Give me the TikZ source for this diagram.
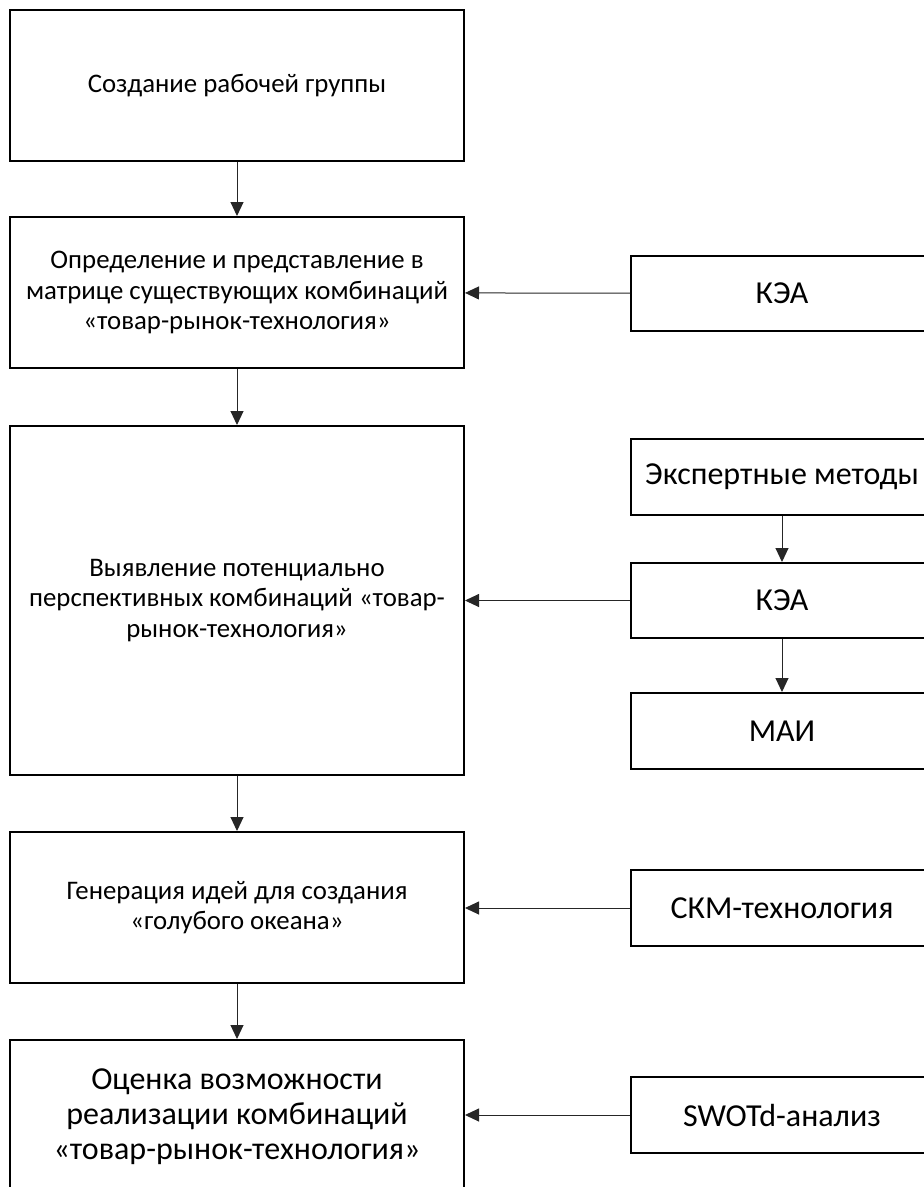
\documentclass[tikz,border=0pt]{standalone}
\usepackage{fontspec}
\setmainfont{Carlito}
\usetikzlibrary{arrows.meta}
\begin{document}
\begin{tikzpicture}[x=1pt,y=-1pt,
  stage/.style={draw=black, line width=2pt, minimum width=454pt, align=center, inner sep=0pt,
    font=\fontsize{26.8}{30.5}\selectfont},
  tool/.style={draw=black, line width=2pt, minimum width=302pt, minimum height=75pt, align=center, inner sep=0pt,
    font=\fontsize{32}{36}\selectfont},
  flow/.style={line width=1pt, draw=black!85, -{Triangle[length=14pt,width=13pt]}}]
\clip (0,0) rectangle (924,1187);
\useasboundingbox (0,0) rectangle (924,1187);

% main sequence of stages
\node[stage, minimum height=151pt] (s1) at (237,85.5) {Создание рабочей группы};
\node[stage, minimum height=151pt] (s2) at (237,292.5)
  {Определение и представление в\\матрице существующих комбинаций\\«товар-рынок-технология»};
\node[stage, minimum height=349pt] (s3) at (237,600.5)
  {Выявление потенциально\\перспективных комбинаций «товар-\\рынок-технология»};
\node[stage, minimum height=151pt] (s4) at (237,907.5)
  {Генерация идей для создания\\«голубого океана»};
\node[stage, minimum height=154pt, font=\fontsize{32}{35}\selectfont] (s5) at (237,1117)
  {Оценка возможности\\реализации комбинаций\\«товар-рынок-технология»};

% supporting methods
\node[tool] (k1) at (782,293.5) {КЭА};
\node[tool, minimum height=76pt] (em) at (782,477) {Экспертные методы};
\node[tool] (k2) at (782,600.5) {КЭА};
\node[tool, minimum height=76pt] (mai) at (782,731) {МАИ};
\node[tool, minimum height=76pt] (skm) at (782,908) {СКМ-технология};
\node[tool, minimum height=76pt] (swot) at (782,1115) {SWOTd-анализ};

% connectors
\draw[flow] (s1) -- (s2);
\draw[flow] (s2) -- (s3);
\draw[flow] (s3) -- (s4);
\draw[flow] (s4) -- (s5.north);
\draw[flow] (k1) -- (s2);
\draw[flow] (k2) -- (s3);
\draw[flow] (em) -- (k2);
\draw[flow] (k2) -- (mai);
\draw[flow] (skm.west) -- (skm.west -| s4.east);
\draw[flow] (swot.west) -- (swot.west -| s5.east);
\end{tikzpicture}
\end{document}
